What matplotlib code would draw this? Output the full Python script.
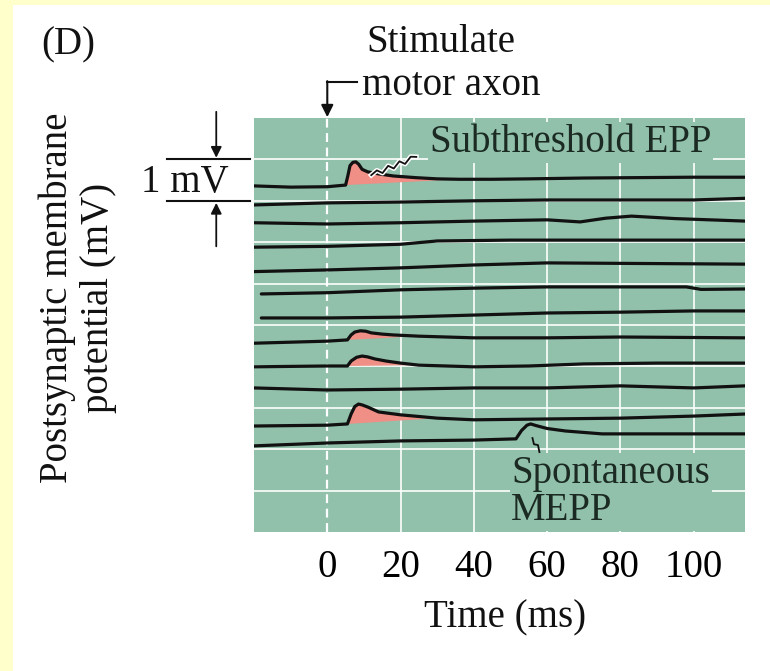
import numpy as np
import matplotlib
matplotlib.use('Agg')
import matplotlib.pyplot as plt
import matplotlib.patches as mpatches
import matplotlib.patheffects as pe

plt.rcParams['font.family'] = ['Liberation Serif', 'DejaVu Serif']

# sweeps, top to bottom: time (ms) and potential (mV, each sweep offset on the page)
t01 = [-20, -10, 0, 5, 5.6, 6.2, 7.0, 7.8, 8.6, 9.5, 11, 14, 18, 24, 30, 36, 45, 55, 70, 85, 100, 114]
v01 = [8.36, 8.33, 8.34, 8.38, 8.60, 8.85, 8.93, 8.94, 8.88, 8.76, 8.70, 8.65, 8.60, 8.56, 8.53, 8.52, 8.52, 8.53, 8.55, 8.56, 8.57, 8.57]
t02 = [-20, 0, 20, 40, 60, 80, 100, 114]
v02 = [7.90, 7.95, 7.97, 8.00, 8.02, 8.02, 8.02, 8.06]
t03 = [-20, 0, 20, 40, 60, 69, 76, 83, 95, 114]
v03 = [7.47, 7.44, 7.47, 7.51, 7.54, 7.49, 7.58, 7.63, 7.57, 7.51]
t04 = [-20, 0, 20, 30, 50, 80, 114]
v04 = [6.88, 6.90, 6.95, 7.03, 7.05, 7.05, 7.05]
t05 = [-20, 0, 20, 40, 60, 114]
v05 = [6.29, 6.33, 6.38, 6.45, 6.50, 6.47]
t06 = [-18, 0, 20, 40, 60, 98, 102, 114]
v06 = [5.75, 5.78, 5.85, 5.89, 5.92, 5.92, 5.86, 5.87]
t07 = [-18, 0, 20, 40, 60, 80, 100, 114]
v07 = [5.17, 5.17, 5.19, 5.24, 5.29, 5.31, 5.34, 5.34]
t08 = [-20, 0, 5.5, 6.5, 7.5, 9, 10.5, 12, 15, 18, 25, 40, 60, 80, 114]
v08 = [4.56, 4.61, 4.64, 4.76, 4.83, 4.86, 4.85, 4.81, 4.78, 4.76, 4.73, 4.69, 4.69, 4.71, 4.69]
t09 = [-20, 0, 5.5, 6.5, 8, 9.5, 11, 13, 16, 20, 25, 40, 55, 70, 90, 114]
v09 = [3.99, 4.01, 4.01, 4.13, 4.22, 4.25, 4.23, 4.18, 4.13, 4.08, 4.03, 3.99, 4.01, 4.06, 4.08, 4.08]
t10 = [-20, 0, 20, 40, 60, 80, 100, 114]
v10 = [3.48, 3.43, 3.45, 3.48, 3.48, 3.53, 3.48, 3.53]
t11 = [-20, 0, 5.5, 6.5, 7.5, 8.5, 9.5, 11, 14, 20, 30, 40, 60, 80, 100, 114]
v11 = [2.56, 2.58, 2.61, 2.85, 3.03, 3.09, 3.07, 3.02, 2.90, 2.83, 2.75, 2.71, 2.73, 2.75, 2.80, 2.85]
t12 = [-20, 0, 20, 40, 51.5, 53, 54.5, 55.5, 57, 60, 65, 75, 90, 114]
v12 = [2.08, 2.15, 2.20, 2.22, 2.25, 2.45, 2.58, 2.61, 2.57, 2.50, 2.44, 2.37, 2.37, 2.37]

sweeps = [(t01, v01), (t02, v02), (t03, v03), (t04, v04), (t05, v05), (t06, v06),
          (t07, v07), (t08, v08), (t09, v09), (t10, v10), (t11, v11), (t12, v12)]

# shaded EPPs: sweep index -> (start, end) in ms
epp_spans = {0: (5, 36), 7: (5.5, 25), 8: (5.5, 25), 10: (5.5, 30)}

time_ticks = [0, 20, 40, 60, 80, 100]

green = '#91c0ab'
ink = '#111111'
txtcol = '#1b2a22'
pink = '#ef8f86'
fs = 28

W, H = 770, 671
fig = plt.figure(figsize=(W / 100, H / 100), dpi=100)
fig.patch.set_facecolor('#ffffcc')
fig.patches.append(mpatches.Rectangle((13 / W, 0), 1, 1 - 5 / H, transform=fig.transFigure,
                                      facecolor='white', edgecolor='none', zorder=-10))

ax = fig.add_axes([254 / W, (H - 532) / H, (745 - 254) / W, (532 - 118) / H])
ax.set_zorder(5)
ax.set_facecolor(green)
ax.set_xlim(-20, 114)
ax.set_ylim(0, 10)
for s in ax.spines.values():
    s.set_visible(False)

# grid
for y in range(1, 10):
    ax.axhline(y, color='white', lw=1.4, alpha=0.85, zorder=1)
for x in time_ticks[1:]:
    ax.axvline(x, color='white', lw=1.4, alpha=0.85, zorder=1)
ax.axvline(0, color='white', lw=1.6, ls=(0, (4, 2.5)), zorder=1)

# sweeps
for i, (t, v) in enumerate(sweeps):
    t = np.array(t)
    v = np.array(v)
    if i in epp_spans:
        a, b = epp_spans[i]
        m = (t >= a) & (t <= b)
        ax.fill(t[m], v[m], color=pink, lw=0, zorder=2)
    ax.plot(t, v, color=ink, lw=2.3, solid_capstyle='round', zorder=3)

ax.set_xticks(time_ticks)
ax.set_xticklabels([str(x) for x in time_ticks], fontsize=fs)
ax.set_yticks([])
ax.tick_params(axis='x', length=0, pad=12)

# annotations in the plot
ax.text(28.0, 9.18, 'Subthreshold EPP', fontsize=fs, color=txtcol, ha='left', va='baseline',
        zorder=2, bbox=dict(facecolor=green, edgecolor='none', pad=1))
zx = np.linspace(12.0, 24.3, 9)
zy = np.linspace(8.62, 9.06, 9) + np.array([0, 0.06, -0.06, 0.06, -0.06, 0.06, -0.06, 0.06, 0])
ax.plot(zx, zy, color=ink, lw=1.3, zorder=4,
        path_effects=[pe.Stroke(linewidth=3.5, foreground='white'), pe.Normal()])

# baseline of the last line ("MEPP")
ax.text(50.2, 0.29, 'Spontaneous\nMEPP', fontsize=fs, color=txtcol, ha='left', va='baseline',
        linespacing=1.0, zorder=2, bbox=dict(facecolor=green, edgecolor='none', pad=1))
ax.plot([56.0, 56.4, 57.5, 57.9], [2.27, 2.12, 2.10, 1.93], color=ink, lw=1.3, zorder=4)

# stimulus marker
ax.plot([0, 8.2], [10.87, 10.87], color=ink, lw=1.5, clip_on=False)
ax.annotate('', xy=(0, 10.02), xytext=(0, 10.89), annotation_clip=False,
            arrowprops=dict(arrowstyle='-|>', color=ink, lw=1.5, mutation_scale=18, shrinkA=0, shrinkB=0))
ax.text(10.7, 11.60, 'Stimulate', fontsize=fs, ha='left', va='baseline', color=ink)
ax.text(9.6, 10.55, 'motor axon', fontsize=fs, ha='left', va='baseline', color=ink)

# 1 mV scale bar
ax.plot([-43.7, -21.0], [9, 9], color=ink, lw=1.5, clip_on=False)
ax.plot([-43.7, -21.0], [8, 8], color=ink, lw=1.5, clip_on=False)
ax.annotate('', xy=(-30.3, 9.04), xytext=(-30.3, 10.15), annotation_clip=False,
            arrowprops=dict(arrowstyle='-|>', color=ink, lw=1.3, mutation_scale=16, shrinkA=0, shrinkB=0))
ax.annotate('', xy=(-30.3, 7.95), xytext=(-30.3, 6.9), annotation_clip=False,
            arrowprops=dict(arrowstyle='-|>', color=ink, lw=1.3, mutation_scale=16, shrinkA=0, shrinkB=0))
ax.text(-50.8, 8.21, '1 mV', fontsize=fs, ha='left', va='baseline', color=ink)

# figure labels
fig.text(68 / W, 1 - 45 / H, '(D)', fontsize=fs, ha='center', va='center', color=ink)
fig.text(505 / W, 1 - 627 / H, 'Time (ms)', fontsize=fs, ha='center', va='baseline', color=ink)
fig.text(78 / W, 1 - 298 / H, 'Postsynaptic membrane\npotential (mV)', fontsize=fs, rotation=90,
         ha='center', va='center', multialignment='center', linespacing=1.15, color=ink)

fig.savefig('out.png', dpi=100, facecolor=fig.get_facecolor())
